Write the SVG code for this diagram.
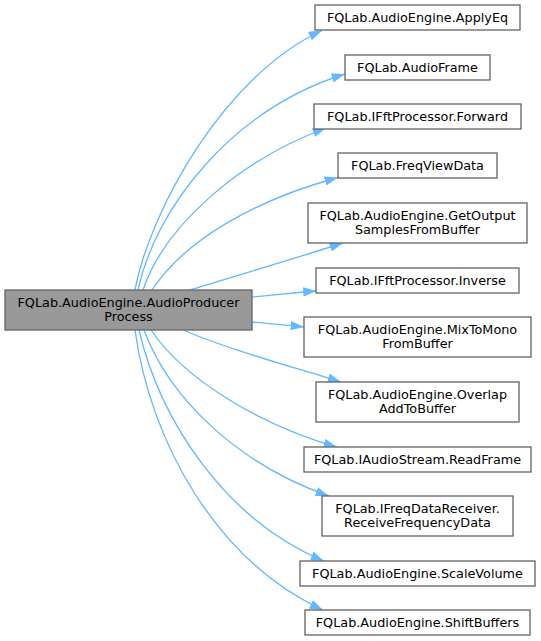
<svg xmlns="http://www.w3.org/2000/svg" width="541" height="641" viewBox="0 0 541 641">
<style>
rect.n{fill:#ffffff;stroke:#666666;stroke-width:1.33}
rect.m{fill:#999999;stroke:#666666;stroke-width:1.33}
text{font-family:"DejaVu Sans","Liberation Sans",sans-serif;font-size:12.8px;fill:#000000;text-anchor:middle}
path.e{fill:none;stroke:#63b8ff;stroke-width:1.33}
</style>
<defs>
<marker id="ah" viewBox="0 0 13.3 9.3" refX="13.3" refY="4.65" markerWidth="13.3" markerHeight="9.3" markerUnits="userSpaceOnUse" orient="auto">
<path d="M0,0 L13.3,4.65 L0,9.3 z" fill="#63b8ff"/>
</marker>
</defs>
<rect width="541" height="641" fill="#ffffff"/>
<g id="edges">
<path class="e" marker-end="url(#ah)" d="M135,290 C150,210 225,75 322,30.5"/>
<path class="e" marker-end="url(#ah)" d="M138,290 C155,210 230,110 345,74"/>
<path class="e" marker-end="url(#ah)" d="M143,290 C165,225 240,160 326,128"/>
<path class="e" marker-end="url(#ah)" d="M152,290 C185,240 255,200 338,177.5"/>
<path class="e" marker-end="url(#ah)" d="M190,290 C235,276 290,260 343,243"/>
<path class="e" marker-end="url(#ah)" d="M252,297 C275,295 295,292.5 316.5,291"/>
<path class="e" marker-end="url(#ah)" d="M252,322 C275,324 290,325.5 304,327"/>
<path class="e" marker-end="url(#ah)" d="M183,330 C230,350 290,366 341,382"/>
<path class="e" marker-end="url(#ah)" d="M151,330 C185,380 260,425 337,447"/>
<path class="e" marker-end="url(#ah)" d="M144,330 C170,400 240,465 329,496"/>
<path class="e" marker-end="url(#ah)" d="M139,330 C160,420 225,520 324,561"/>
<path class="e" marker-end="url(#ah)" d="M135,330 C150,440 215,560 323,610"/>
</g>
<g id="main">
<rect class="m" x="5" y="290" width="247" height="40"/>
<text x="128.5" y="307">FQLab.AudioEngine.AudioProducer</text>
<text x="128.5" y="321">Process</text>
</g>
<g id="applyeq">
<rect class="n" x="315" y="5" width="205" height="25"/>
<text x="417.5" y="21.7">FQLab.AudioEngine.ApplyEq</text>
</g>
<g id="audioframe">
<rect class="n" x="345" y="55" width="145" height="25"/>
<text x="417.5" y="71.7">FQLab.AudioFrame</text>
</g>
<g id="forward">
<rect class="n" x="314" y="104" width="207" height="25"/>
<text x="417.5" y="120.7">FQLab.IFftProcessor.Forward</text>
</g>
<g id="freqviewdata">
<rect class="n" x="338" y="153" width="159" height="25"/>
<text x="417.5" y="169.7">FQLab.FreqViewData</text>
</g>
<g id="getoutput">
<rect class="n" x="308" y="203" width="219" height="40"/>
<text x="417.5" y="220">FQLab.AudioEngine.GetOutput</text>
<text x="417.5" y="234">SamplesFromBuffer</text>
</g>
<g id="inverse">
<rect class="n" x="316" y="268" width="203" height="25"/>
<text x="417.5" y="284.7">FQLab.IFftProcessor.Inverse</text>
</g>
<g id="mixtomono">
<rect class="n" x="304" y="317" width="227" height="40"/>
<text x="417.5" y="334">FQLab.AudioEngine.MixToMono</text>
<text x="417.5" y="348">FromBuffer</text>
</g>
<g id="overlapadd">
<rect class="n" x="316" y="382" width="203" height="40"/>
<text x="417.5" y="399">FQLab.AudioEngine.Overlap</text>
<text x="417.5" y="413">AddToBuffer</text>
</g>
<g id="readframe">
<rect class="n" x="304" y="447" width="227" height="25"/>
<text x="417.5" y="463.7">FQLab.IAudioStream.ReadFrame</text>
</g>
<g id="receivefreq">
<rect class="n" x="322" y="496" width="191" height="40"/>
<text x="417.5" y="513">FQLab.IFreqDataReceiver.</text>
<text x="417.5" y="527">ReceiveFrequencyData</text>
</g>
<g id="scalevolume">
<rect class="n" x="300" y="561" width="235" height="25"/>
<text x="417.5" y="577.7">FQLab.AudioEngine.ScaleVolume</text>
</g>
<g id="shiftbuffers">
<rect class="n" x="305" y="610" width="225" height="25"/>
<text x="417.5" y="626.7">FQLab.AudioEngine.ShiftBuffers</text>
</g>
</svg>
